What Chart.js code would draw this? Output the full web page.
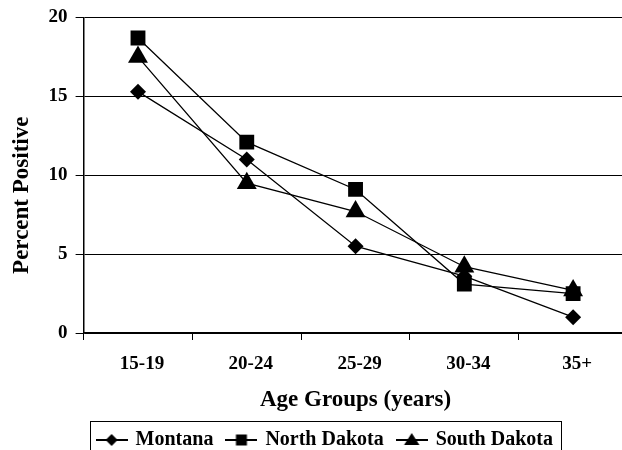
<!DOCTYPE html>
<html>
<head>
<meta charset="utf-8">
<script src="https://cdn.jsdelivr.net/npm/chart.js@4.4.1/dist/chart.umd.min.js"></script>
<style>
  html, body { margin: 0; padding: 0; background: #fff; overflow: hidden; }
  #wrap { width: 622px; height: 450px; overflow: hidden; }
</style>
</head>
<body>
<!-- o gráfico original aparece cortado à direita: a tela é um pouco mais larga que a janela -->
<div id="wrap"><canvas id="ageChart" width="639" height="450"></canvas></div>
<script>
// categorias e valores
const ageGroups = ['15-19', '20-24', '25-29', '30-34', '35+'];
const montana = [15.3, 11.0, 5.5, 3.6, 1.0];
const northDakota = [18.7, 12.1, 9.1, 3.1, 2.5];
const southDakota = [17.5, 9.5, 7.7, 4.2, 2.7];
const yTicks = [0, 5, 10, 15, 20];
const yTitle = 'Percent Positive';

const serif = "'Liberation Serif', 'Times New Roman', serif";

// ícone da legenda: linha com marcador
function legendIcon(style, r) {
    const c = document.createElement('canvas');
    c.width = 32; c.height = 18;
    const g = c.getContext('2d');
    g.strokeStyle = '#000';
    g.lineWidth = 2;
    g.beginPath(); g.moveTo(0, 9); g.lineTo(32, 9); g.stroke();
    g.fillStyle = '#000';
    g.beginPath();
    if (style === 'rectRot') {
        g.moveTo(16, 9 - r); g.lineTo(16 + r, 9); g.lineTo(16, 9 + r); g.lineTo(16 - r, 9);
    } else if (style === 'rect') {
        g.rect(16 - r, 9 - r, 2 * r, 2 * r);
    } else {
        g.moveTo(16, 9 - r); g.lineTo(16 + r * 1.1, 9 + r * 0.7); g.lineTo(16 - r * 1.1, 9 + r * 0.7);
    }
    g.closePath(); g.fill();
    return c;
}

const icons = [legendIcon('rectRot', 6), legendIcon('rect', 5.5), legendIcon('triangle', 7)];

// moldura em volta da legenda
const legendFrame = {
    id: 'legendFrame',
    afterDraw(chart) {
        const boxes = chart.legend.legendHitBoxes;
        if (!boxes || !boxes.length) return;
        const left = Math.min(...boxes.map(b => b.left)) - 8;
        const right = Math.max(...boxes.map(b => b.left + b.width)) + 8;
        const top = Math.min(...boxes.map(b => b.top)) - 9;
        const bottom = Math.max(...boxes.map(b => b.top + b.height)) + 14;
        const ctx = chart.ctx;
        ctx.save();
        ctx.strokeStyle = '#000';
        ctx.lineWidth = 1;
        ctx.strokeRect(Math.round(left) + 0.5, Math.round(top) + 0.5, Math.round(right - left), Math.round(bottom - top));
        ctx.restore();
    }
};

// título do eixo Y, um pouco abaixo do centro como no original
const yTitlePlugin = {
    id: 'yTitlePlugin',
    afterDraw(chart) {
        const area = chart.chartArea;
        const ctx = chart.ctx;
        ctx.save();
        ctx.translate(22, (area.top + area.bottom) / 2 + 20);
        ctx.rotate(-Math.PI / 2);
        ctx.fillStyle = '#000';
        ctx.font = 'bold 23px ' + serif;
        ctx.textAlign = 'center';
        ctx.textBaseline = 'middle';
        ctx.fillText(yTitle, 0, 0);
        ctx.restore();
    }
};

function makeSet(label, data, style, radius) {
    return {
        label: label,
        data: data,
        borderColor: '#000',
        backgroundColor: '#000',
        borderWidth: 1.3,
        pointStyle: style,
        pointRadius: radius,
        pointHoverRadius: radius,
        pointBorderWidth: 0,
        tension: 0
    };
}

const ctx = document.getElementById('ageChart').getContext('2d');
const mainChart = new Chart(ctx, {
    type: 'line',
    data: {
        labels: ageGroups,
        datasets: [
            makeSet('Montana', montana, 'rectRot', 8),
            makeSet('North Dakota', northDakota, 'rect', 10.5),
            makeSet('South Dakota', southDakota, 'triangle', 11.5)
        ]
    },
    options: {
        responsive: false,
        animation: false,
        layout: { padding: { left: 40.6, right: 0, top: 6, bottom: -10 } },
        plugins: {
            tooltip: { enabled: false },
            legend: {
                position: 'bottom',
                align: 'start',
                fullSize: false,
                labels: {
                    usePointStyle: true,
                    pointStyleWidth: 28,
                    padding: 14,
                    color: '#000',
                    font: { family: serif, size: 20, weight: 'bold' },
                    generateLabels(chart) {
                        return chart.data.datasets.map((ds, i) => ({
                            text: ds.label,
                            pointStyle: icons[i],
                            fillStyle: '#000',
                            strokeStyle: '#000',
                            lineWidth: 0,
                            fontColor: '#000',
                            hidden: false,
                            datasetIndex: i
                        }));
                    }
                }
            }
        },
        scales: {
            x: {
                offset: true,
                grid: {
                    offset: true,
                    drawOnChartArea: false,
                    drawTicks: true,
                    tickLength: 7,
                    color: '#000'
                },
                border: { color: '#000', width: 1.5 },
                ticks: {
                    color: '#000',
                    padding: 13,
                    labelOffset: 4,
                    font: { family: serif, size: 19, weight: 'bold' }
                },
                title: {
                    display: true,
                    text: 'Age Groups (years)',
                    color: '#000',
                    padding: { top: -3, bottom: 2.6 },
                    font: { family: serif, size: 23, weight: 'bold' }
                }
            },
            y: {
                min: 0,
                max: 20,
                afterBuildTicks(axis) {
                    axis.ticks = yTicks.map(v => ({ value: v }));
                },
                grid: {
                    color: '#000',
                    lineWidth: 1,
                    tickLength: 8
                },
                border: { color: '#000', width: 1.5 },
                ticks: {
                    color: '#000',
                    padding: 8,
                    font: { family: serif, size: 19, weight: 'bold', lineHeight: 1.0 }
                },
                title: { display: false }
            }
        }
    },
    plugins: [legendFrame, yTitlePlugin]
});
</script>
</body>
</html>
